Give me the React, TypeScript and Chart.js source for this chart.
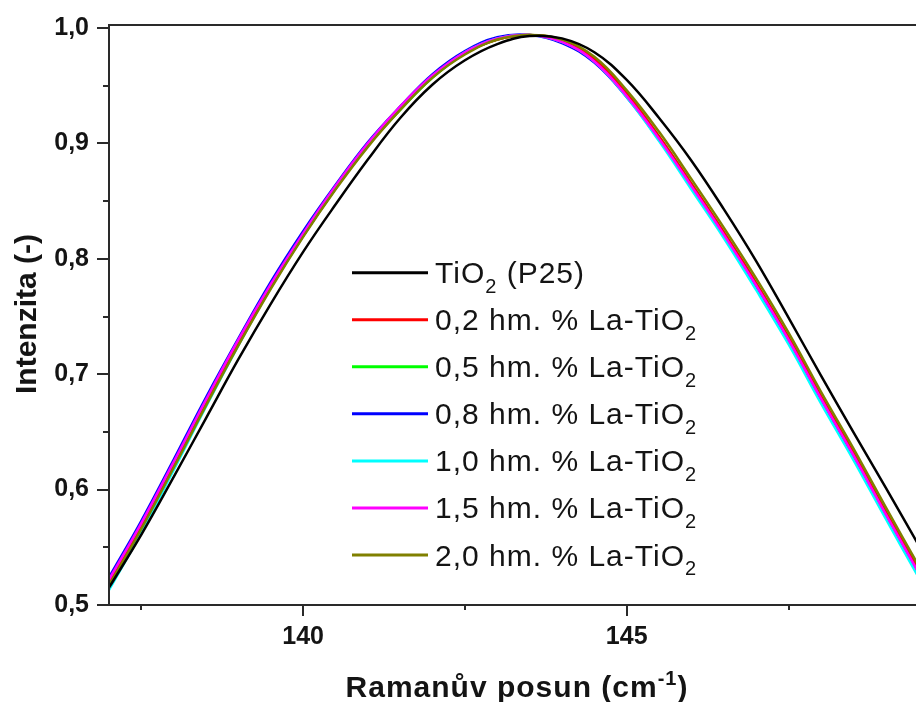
import React, { useEffect, useRef } from 'react';
import { Chart, registerables } from 'chart.js';

Chart.register(...registerables);

// ---------- data ----------
const ramanShift = [
  137, 137.5, 138, 138.5, 139, 139.5, 140, 140.5, 141, 141.5, 142, 142.5, 143,
  143.5, 144, 144.5, 145, 145.5, 146, 146.5, 147, 147.5, 148, 148.5, 149, 149.5,
];

const seriesNames = [
  'TiO₂ (P25)',
  '0,2 hm. % La-TiO₂',
  '0,5 hm. % La-TiO₂',
  '0,8 hm. % La-TiO₂',
  '1,0 hm. % La-TiO₂',
  '1,5 hm. % La-TiO₂',
  '2,0 hm. % La-TiO₂',
];
const seriesColors = ['#000000', '#ff0000', '#00ff00', '#0000ff', '#00ffff', '#ff00ff', '#808000'];
const seriesOrder = [0, 3, 4, 6, 5, 2, 1];

const tio2P25 = [0.515, 0.561, 0.611, 0.662, 0.713, 0.761, 0.806, 0.847, 0.886, 0.922, 0.951, 0.972, 0.986, 0.993, 0.991, 0.979, 0.955, 0.922, 0.885, 0.843, 0.798, 0.749, 0.699, 0.65, 0.602, 0.553];
const la02 = [0.519, 0.568, 0.621, 0.675, 0.727, 0.776, 0.82, 0.861, 0.898, 0.93, 0.958, 0.978, 0.99, 0.994, 0.989, 0.973, 0.943, 0.906, 0.865, 0.823, 0.779, 0.732, 0.681, 0.632, 0.581, 0.531];
const la05 = [0.518, 0.567, 0.62, 0.674, 0.726, 0.775, 0.82, 0.861, 0.898, 0.929, 0.957, 0.978, 0.99, 0.994, 0.989, 0.973, 0.943, 0.906, 0.865, 0.823, 0.779, 0.732, 0.681, 0.632, 0.581, 0.532];
const la08 = [0.524, 0.573, 0.626, 0.68, 0.731, 0.78, 0.824, 0.864, 0.901, 0.932, 0.96, 0.98, 0.992, 0.994, 0.987, 0.97, 0.94, 0.903, 0.862, 0.82, 0.776, 0.729, 0.678, 0.629, 0.578, 0.529];
const la10 = [0.513, 0.563, 0.617, 0.672, 0.725, 0.775, 0.82, 0.861, 0.899, 0.93, 0.958, 0.979, 0.991, 0.994, 0.988, 0.971, 0.94, 0.902, 0.86, 0.818, 0.773, 0.726, 0.675, 0.626, 0.575, 0.525];
const la15 = [0.522, 0.571, 0.624, 0.678, 0.73, 0.778, 0.822, 0.863, 0.9, 0.932, 0.959, 0.979, 0.991, 0.994, 0.988, 0.971, 0.941, 0.904, 0.863, 0.821, 0.777, 0.73, 0.679, 0.63, 0.579, 0.529];
const la20 = [0.517, 0.566, 0.619, 0.673, 0.725, 0.774, 0.819, 0.86, 0.897, 0.929, 0.957, 0.977, 0.99, 0.994, 0.99, 0.975, 0.946, 0.91, 0.869, 0.827, 0.783, 0.736, 0.685, 0.636, 0.585, 0.535];

const seriesValues = [tio2P25, la02, la05, la08, la10, la15, la20];

const yTickValues = [0.5, 0.6, 0.7, 0.8, 0.9, 1.0];
const yMinorTickValues = [0.55, 0.65, 0.75, 0.85, 0.95];
const xTickValues = [140, 145];
const xMinorTickValues = [137.5, 142.5, 147.5];

const xTitle = 'Ramanův posun (cm⁻¹)';
const yTitle = 'Intenzita (-)';

// ---------- helpers ----------
const FAMILY = '"Liberation Sans", Arial, sans-serif';
const TEXT_COLOR = '#141414';
const AXIS_COLOR = '#2a2a2a';

type Run = { text: string; kind: 'n' | 'sub' | 'sup' };

function splitRuns(text: string): Run[] {
  const subMap: Record<string, string> = { '₂': '2' };
  const supMap: Record<string, string> = { '⁻': '-', '¹': '1' };
  const runs: Run[] = [];
  for (const ch of text) {
    let kind: Run['kind'] = 'n';
    let c = ch;
    if (subMap[ch]) { kind = 'sub'; c = subMap[ch]; }
    else if (supMap[ch]) { kind = 'sup'; c = supMap[ch]; }
    const last = runs[runs.length - 1];
    if (last && last.kind === kind) last.text += c;
    else runs.push({ text: c, kind });
  }
  return runs;
}

function richFont(kind: Run['kind'], size: number, weight: string) {
  const s = kind === 'n' ? size : Math.round(size * 0.68);
  return `${weight} ${s}px ${FAMILY}`;
}

function measureRich(ctx: CanvasRenderingContext2D, text: string, size: number, weight: string) {
  let w = 0;
  for (const r of splitRuns(text)) {
    ctx.font = richFont(r.kind, size, weight);
    w += ctx.measureText(r.text).width;
  }
  return w;
}

function drawRich(ctx: CanvasRenderingContext2D, text: string, x: number, y: number, size: number, weight: string) {
  let cx = x;
  for (const r of splitRuns(text)) {
    ctx.font = richFont(r.kind, size, weight);
    let dy = 0;
    if (r.kind === 'sub') dy = size * 0.33;
    if (r.kind === 'sup') dy = -size * 0.4;
    ctx.fillText(r.text, cx, y + dy);
    cx += ctx.measureText(r.text).width;
  }
}

const framePlugin = {
  id: 'frameAndDecor',
  afterDatasetsDraw(chart: any) {
    const { ctx, chartArea } = chart;
    const xs = chart.scales.x;
    const ys = chart.scales.y;
    const { left, right, top, bottom } = chartArea;
    ctx.save();
    ctx.strokeStyle = AXIS_COLOR;
    ctx.lineWidth = 2;
    ctx.beginPath();
    ctx.moveTo(left, top);
    ctx.lineTo(right, top);
    ctx.moveTo(left, top - 1);
    ctx.lineTo(left, bottom + 1);
    ctx.moveTo(left - 1, bottom);
    ctx.lineTo(right, bottom);
    yTickValues.forEach((v) => {
      const p = Math.round(ys.getPixelForValue(v));
      ctx.moveTo(left - 12, p);
      ctx.lineTo(left, p);
    });
    yMinorTickValues.forEach((v) => {
      const p = Math.round(ys.getPixelForValue(v));
      ctx.moveTo(left - 6, p);
      ctx.lineTo(left, p);
    });
    xTickValues.forEach((v) => {
      const p = Math.round(xs.getPixelForValue(v));
      ctx.moveTo(p, bottom);
      ctx.lineTo(p, bottom + 11);
    });
    xMinorTickValues.forEach((v) => {
      const p = Math.round(xs.getPixelForValue(v));
      ctx.moveTo(p, bottom);
      ctx.lineTo(p, bottom + 5);
    });
    ctx.stroke();

    ctx.fillStyle = TEXT_COLOR;
    ctx.textBaseline = 'alphabetic';
    ctx.textAlign = 'left';
    (ctx as any).letterSpacing = '1px';

    // legend
    const legX0 = 352;
    const legX1 = 428;
    const legY0 = 272.7;
    const legStep = 47.05;
    chart.data.datasets.forEach((ds: any, i: number) => {
      const cy = legY0 + i * legStep;
      ctx.strokeStyle = ds.borderColor;
      ctx.lineWidth = 3;
      ctx.beginPath();
      ctx.moveTo(legX0, cy);
      ctx.lineTo(legX1, cy);
      ctx.stroke();
      ctx.fillStyle = TEXT_COLOR;
      drawRich(ctx, ds.label, 435, cy + 10.5, 30, 'normal');
    });

    // x title
    const xw = measureRich(ctx, xTitle, 30, 'bold');
    drawRich(ctx, xTitle, 517 - xw / 2, 697, 30, 'bold');

    // y title
    ctx.save();
    ctx.translate(36, 314);
    ctx.rotate(-Math.PI / 2);
    (ctx as any).letterSpacing = '0px';
    ctx.font = `bold 30px ${FAMILY}`;
    ctx.textAlign = 'center';
    ctx.fillText(yTitle, 0, 0);
    ctx.restore();

    ctx.restore();
  },
};

export default function App() {
  const ref = useRef<HTMLCanvasElement | null>(null);

  useEffect(() => {
    if (!ref.current) return;
    const datasets = seriesNames.map((name, i) => ({
      label: name,
      data: ramanShift.map((x, j) => ({ x, y: seriesValues[i][j] })),
      borderColor: seriesColors[i],
      backgroundColor: seriesColors[i],
      borderWidth: 2.5,
      pointRadius: 0,
      tension: 0.4,
      fill: false,
      order: seriesOrder[i],
    }));
    const chart = new Chart(ref.current, {
      type: 'line',
      data: { datasets },
      options: {
        animation: false,
        responsive: false,
        devicePixelRatio: 1,
        layout: { padding: { left: 0, right: 0, top: 25, bottom: 0 } },
        plugins: { legend: { display: false }, tooltip: { enabled: false } },
        scales: {
          x: {
            type: 'linear',
            min: 137,
            max: 149.47,
            grid: { display: false, drawTicks: false },
            border: { display: false },
            afterFit: (s: any) => { s.height = 97; s.paddingLeft = 0; s.paddingRight = 0; },
            afterBuildTicks: (s: any) => { s.ticks = xTickValues.map((v) => ({ value: v })); },
            ticks: {
              padding: 17,
              maxRotation: 0,
              autoSkip: false,
              color: TEXT_COLOR,
              font: { family: FAMILY, size: 25, weight: 'bold' },
              callback: (v: any) => String(v),
            },
          },
          y: {
            type: 'linear',
            min: 0.5,
            max: 1.0026,
            grid: { display: false, drawTicks: false },
            border: { display: false },
            afterFit: (s: any) => { s.width = 109; s.paddingTop = 0; s.paddingBottom = 0; },
            afterBuildTicks: (s: any) => { s.ticks = yTickValues.map((v) => ({ value: v })); },
            ticks: {
              padding: 20,
              autoSkip: false,
              color: TEXT_COLOR,
              font: { family: FAMILY, size: 25, weight: 'bold' },
              callback: (v: any) => Number(v).toFixed(1).replace('.', ','),
            },
          },
        },
      },
      plugins: [framePlugin],
    });
    return () => chart.destroy();
  }, []);

  return (
    <div style={{ position: 'absolute', left: 0, top: 0, width: 916, height: 702, background: '#fff' }}>
      <canvas ref={ref} width={916} height={702} style={{ display: 'block', width: 916, height: 702 }} />
    </div>
  );
}
